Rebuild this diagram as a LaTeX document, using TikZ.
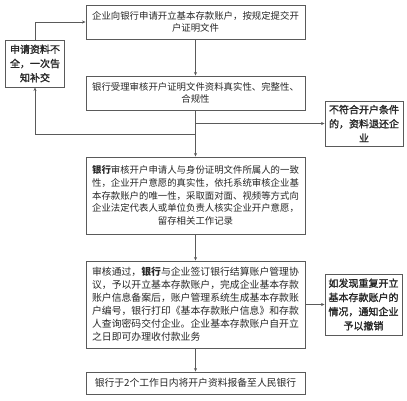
\documentclass[tikz,border=0pt]{standalone}
\usepackage{fontspec}
\setmainfont{Noto Sans CJK SC}
\newfontfamily\sidefont[FakeBold=1.6]{Noto Sans CJK SC}
\usetikzlibrary{arrows.meta}
\definecolor{txt}{HTML}{262626}
\definecolor{edge}{HTML}{5A5A5A}
\tikzset{
  box/.style={draw=edge, line width=0.9pt, text=txt, inner sep=0pt, minimum width=219pt, align=center,
    font=\fontsize{9.4pt}{12.6pt}\selectfont},
  sidebox/.style={draw=edge, line width=0.9pt, text=txt, inner sep=0pt, align=center,
    font=\fontsize{10pt}{14.2pt}\sidefont},
  arr/.style={draw=edge, line width=0.7pt, -{Stealth[length=3.5pt,width=3pt]}},
}
\begin{document}
\begin{tikzpicture}[x=1pt,y=-1pt]
\useasboundingbox (0,0) rectangle (407,400);
\node[box, minimum height=34pt] (b1) at (195.5,22) {企业向银行申请开立基本存款账户，按规定提交开\\户证明文件};
\node[sidebox, minimum width=59pt, minimum height=47pt] (lb) at (35,63.5) {申请资料不\\全，一次告\\知补交};
\node[box, minimum height=34pt] (b2) at (195.5,93) {银行受理审核开户证明文件资料真实性、完整性、\\合规性};
\node[sidebox, minimum width=78pt, minimum height=45pt] (r1) at (364,123.5) {不符合开户条件\\的，资料退还企\\业};
\node[box, minimum height=77pt] (b3) at (195.5,195.5) {\textbf{银行}审核开户申请人与身份证明文件所属人的一致\\性，企业开户意愿的真实性，依托系统审核企业基\\本存款账户的唯一性，采取面对面、视频等方式向\\企业法定代表人或单位负责人核实企业开户意愿，\\留存相关工作记录};
\node[box, minimum height=87pt, align=left, font=\fontsize{9.85pt}{13pt}\selectfont] (b4) at (195.5,304.5) {审核通过，\textbf{银行}与企业签订银行结算账户管理协\\议，予以开立基本存款账户，完成企业基本存款\\账户信息备案后，账户管理系统生成基本存款账\\户编号，银行打印《基本存款账户信息》和存款\\人查询密码交付企业。企业基本存款账户自开立\\之日即可办理收付款业务};
\node[sidebox, minimum width=77pt, minimum height=61pt] (r2) at (363.5,304.5) {如发现重复开立\\基本存款账户的\\情况，通知企业\\予以撤销};
\node[box, minimum height=22pt, font=\fontsize{9.8pt}{12pt}\selectfont] (b5) at (195.5,383) {银行于2个工作日内将开户资料报备至人民银行};
\draw[arr] (lb.north) |- (b1.west);
\draw[arr] (b1.south) -- (b2.north);
\draw[arr] (b2.south) -- (b3.north);
\draw[arr] (b2.south |- 0,134) -| (lb.south);
\draw[arr] (b2.south |- r1.west) -- (r1.west);
\draw[arr] (b3.south) -- (b4.north);
\draw[arr] (b4.east) -- (r2.west);
\draw[arr] (b4.south) -- (b5.north);
\end{tikzpicture}
\end{document}
